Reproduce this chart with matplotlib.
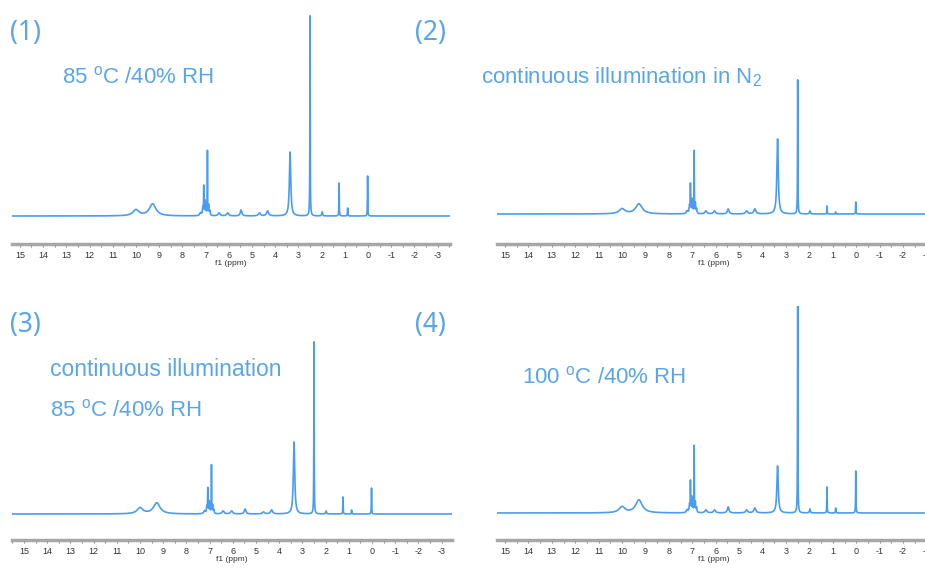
import numpy as np
import matplotlib
matplotlib.use('Agg')
import matplotlib.pyplot as plt
from matplotlib.ticker import MultipleLocator

plt.rcParams['font.family'] = ['Liberation Sans', 'DejaVu Sans']
plt.rcParams['axes.unicode_minus'] = False
plt.rcParams['mathtext.fontset'] = 'custom'
plt.rcParams['mathtext.rm'] = 'Liberation Sans'

LINE = '#4a9cf0'
TEXT = '#5aa5ea'

# peak list (ppm), half widths (ppm)
shifts = [10.0, 9.28, 7.22, 7.12, 7.08, 7.03, 6.98, 6.92, 6.87, 6.82,
          6.42, 6.05, 5.47, 4.68, 4.33, 3.36, 2.50, 1.98, 1.25, 0.88, 0.02]
widths = [0.15, 0.17, 0.04, 0.02, 0.008, 0.012, 0.012, 0.006, 0.012, 0.02,
          0.05, 0.05, 0.04, 0.05, 0.05, 0.035, 0.008, 0.02, 0.008, 0.01, 0.008]

# peak heights for each sample
heights_1 = [6, 12, 3, 8, 28, 14, 12, 64, 10, 5, 3, 3, 6, 3, 5, 64, 200, 4, 33, 8, 40]
heights_2 = [5, 10, 3, 8, 28, 14, 12, 62, 10, 5, 3, 3, 5, 3, 5, 75, 134, 3, 8, 2, 12]
heights_3 = [6, 11, 3, 7, 24, 12, 10, 48, 8, 4, 3, 3, 5, 2, 4, 72, 172, 3, 17, 4, 26]
heights_4 = [6, 13, 3, 8, 30, 15, 12, 66, 10, 5, 3, 3, 6, 3, 5, 47, 215, 4, 26, 5, 42]

W, H = 925, 571
fig = plt.figure(figsize=(W / 100, H / 100), dpi=100)


def spectrum(ppm, heights):
    y = np.zeros_like(ppm)
    for c, h, w in zip(shifts, heights, widths):
        y += h / (1 + ((ppm - c) / w) ** 2)
    return y


def panel(left, right, axis_y, base_y, ppm_left, ppm_right, heights):
    top_y = axis_y - 234
    ax = fig.add_axes([left / W, 1 - axis_y / H, (right - left) / W, 234 / H])
    ppm = np.linspace(ppm_left, ppm_right, 60000)
    ax.plot(ppm, spectrum(ppm, heights), color=LINE, lw=1.2)
    ax.set_xlim(ppm_left, ppm_right)
    ax.set_ylim(-(axis_y - base_y), base_y - top_y)
    for s in ['left', 'top', 'right']:
        ax.spines[s].set_visible(False)
    ax.spines['bottom'].set_color('#a8a8a8')
    ax.spines['bottom'].set_linewidth(2.5)
    ax.set_yticks([])
    ax.xaxis.set_major_locator(MultipleLocator(1))
    ax.xaxis.set_minor_locator(MultipleLocator(0.5))
    ax.tick_params(axis='x', which='both', length=2.5, width=0.8, color='#888888',
                   labelsize=6.5, labelcolor='#333333', pad=2.5)
    ax.set_xlabel('f1 (ppm)', fontsize=6, color='#333333', labelpad=0)
    ax.patch.set_alpha(0)
    return ax


panel(12, 450, 244, 216, 15.34, -3.53, heights_1)
panel(497, 930, 244, 214, 15.34, -3.15, heights_2)
panel(12, 452, 540, 514, 15.52, -3.45, heights_3)
panel(497, 930, 540, 513, 15.34, -3.15, heights_4)


def label(x, y, s, size, **kw):
    fig.text(x / W, 1 - y / H, s, fontsize=size, color=TEXT, va='center', ha='left', **kw)


deg = r'$^{\mathrm{o}}$'
num_font = ['Noto Sans', 'DejaVu Sans']
label(10, 33, '(1)', 19, family=num_font, fontweight='light')
label(415, 33, '(2)', 19, family=num_font, fontweight='light')
label(10, 325, '(3)', 19, family=num_font, fontweight='light')
label(415, 325, '(4)', 19, family=num_font, fontweight='light')
label(62, 77, '85 ' + deg + 'C /40% RH', 16)
label(481, 77, r'continuous illumination in N$_2$', 16)
label(50, 370, 'continuous illumination', 16.5)
label(50, 410, '85 ' + deg + 'C /40% RH', 16)
label(522, 377, '100 ' + deg + 'C /40% RH', 16)

fig.savefig('out.png', dpi=100)
